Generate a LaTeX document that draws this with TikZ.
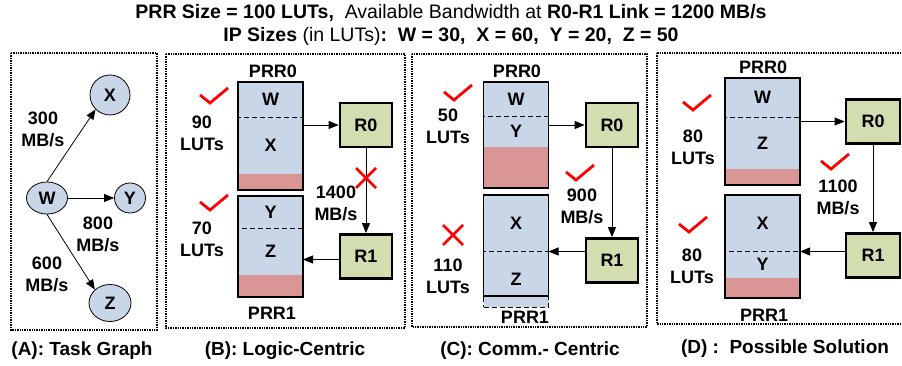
\documentclass[tikz,border=0pt]{standalone}
\usepackage{fontspec}
\setmainfont{Liberation Sans}
\usetikzlibrary{arrows.meta, positioning, shapes.geometric}
\definecolor{ipblue}{HTML}{C8D6E7}
\definecolor{routergreen}{HTML}{D2DEB0}
\definecolor{slackred}{HTML}{D99694}
\tikzset{
  panel/.style={draw, densely dotted, line width=1.4pt},
  lbl/.style={font=\bfseries\fontsize{18}{22}\selectfont, align=center, inner sep=0pt},
  caption/.style={font=\bfseries\fontsize{19}{22}\selectfont, inner sep=0pt},
  headline/.style={font=\fontsize{19.5}{22}\selectfont, inner sep=0pt},
  task/.style={ellipse, draw, line width=0.8pt, fill=ipblue, inner sep=0pt,
    font=\bfseries\fontsize{18}{22}\selectfont},
  router/.style={rectangle, draw, line width=2.8pt, fill=routergreen, minimum width=52pt,
    minimum height=44pt, inner sep=0pt, font=\bfseries\fontsize{18}{22}\selectfont},
  ipblock/.style={rectangle, draw, dash pattern=on 5pt off 3pt, line width=0.8pt, fill=ipblue,
    minimum width=65pt, inner sep=0pt, outer sep=0pt, font=\bfseries\fontsize{18}{22}\selectfont},
  slack/.style={rectangle, fill=slackred, minimum width=65pt, inner sep=0pt, outer sep=0pt},
  prr/.style={rectangle, draw, line width=1.6pt, minimum width=65pt, inner sep=0pt, outer sep=0pt},
  arrow/.style={-{Triangle[length=10pt, width=8pt]}, line width=0.8pt},
  pics/okmark/.style={code={\draw[red, line width=2.8pt] (-14,-1) -- (-4,7) -- (14,-8);}},
  pics/nomark/.style={code={\draw[red, line width=2.8pt] (-10,-10) -- (10,10) (-10,10) -- (10,-10);}},
}
\begin{document}
\begin{tikzpicture}[x=1pt, y=-1pt]
\clip (0,0) rectangle (902,366);
% heading
\node[headline] (title1) at (451,13) {\textbf{PRR Size = 100 LUTs,}\ \ Available Bandwidth at \textbf{R0-R1 Link = 1200 MB/s}};
\node[headline] (title2) at (451,36) {\textbf{IP Sizes} (in LUTs)\textbf{:\ \ W = 30,\ \ X = 60,\ \ Y = 20,\ \ Z = 50}};
% panels
\draw[panel] (11,53) rectangle (157,330);
\draw[panel] (166,54) rectangle (405,328);
\draw[panel] (412,54) rectangle (647,327);
\draw[panel] (657,53) rectangle (910,324);
\node[caption] (capA) at (82,351) {(A): Task Graph};
\node[caption] (capB) at (285,351) {(B): Logic-Centric};
\node[caption] (capC) at (530,351) {(C): Comm.- Centric};
\node[caption] (capD) at (785,349) {(D) :\ \ Possible Solution};

% (A) task graph
\node[task, minimum width=40pt, minimum height=40pt] (tX) at (110,95) {X};
\node[task, minimum width=41pt, minimum height=32pt] (tW) at (47,198) {W};
\node[task, minimum width=31pt, minimum height=30pt] (tY) at (130,198) {Y};
\node[task, minimum width=42pt, minimum height=37pt] (tZ) at (110,303) {Z};
\draw[arrow] (tW.north) -- (tX.south west);
\draw[arrow] (tW.east) -- (tY.west);
\draw[arrow] (tW.south) -- (tZ.north west);
\node[lbl] (bwX) at (43,129) {300\\MB/s};
\node[lbl] (bwY) at (98,234) {800\\MB/s};
\node[lbl] (bwZ) at (47,274) {600\\MB/s};

% (B) logic-centric
\node[ipblock, minimum height=35pt, anchor=north] (bW) at (270.5,82) {W};
\node[ipblock, minimum height=57pt, below=0pt of bW] (bX) {X};
\node[slack, minimum height=16pt, below=0pt of bX] (bS0) {};
\node[prr, minimum height=108pt, anchor=north] (bP0) at (270.5,82) {};
\node[ipblock, minimum height=32pt, anchor=north] (bY) at (270.5,196) {Y};
\node[ipblock, minimum height=47pt, below=0pt of bY] (bZ) {Z};
\node[slack, minimum height=22pt, below=0pt of bZ] (bS1) {};
\node[prr, minimum height=101pt, anchor=north] (bP1) at (270.5,196) {};
\node[lbl] (bL0) at (273,71) {PRR0};
\node[lbl] (bL1) at (272,313) {PRR1};
\node[router] (bR0) at (366,125) {R0};
\node[router] (bR1) at (366,256.5) {R1};
\draw[arrow] (bR0.west -| bP0.east) -- (bR0.west);
\draw[arrow] (bR0) -- (bR1);
\draw[arrow] ([yshift=-3pt]bR1.west) -- ([yshift=-3pt]bR1.west -| bP1.east);
\node[lbl] (bBw) at (336,203) {1400\\MB/s};
\node[lbl] (bU0) at (202,133) {90\\LUTs};
\node[lbl] (bU1) at (202,239) {70\\LUTs};
\pic at (214,96) {okmark};
\pic at (214,203) {okmark};
\pic at (366,178) {nomark};

% (C) comm.-centric
\node[ipblock, minimum height=34pt, anchor=north] (cW) at (516,82) {W};
\node[ipblock, minimum height=31pt, below=0pt of cW] (cY) {Y};
\node[slack, minimum height=41pt, below=0pt of cY] (cS0) {};
\node[prr, minimum height=106pt, anchor=north] (cP0) at (516,82) {};
\node[ipblock, minimum height=56pt, anchor=north] (cX) at (516,195) {X};
\node[ipblock, minimum height=56pt, below=0pt of cX] (cZ) {Z};
\node[prr, minimum height=101pt, anchor=north] (cP1) at (516,195) {};
\node[lbl] (cL0) at (517,71) {PRR0};
\node[lbl] (cL1) at (525,317) {PRR1};
\node[router] (cR0) at (612,125) {R0};
\node[router] (cR1) at (612,260.5) {R1};
\draw[arrow] (cR0.west -| cP0.east) -- (cR0.west);
\draw[arrow] (cR0) -- (cR1);
\draw[arrow] ([yshift=9pt]cR1.west) -- ([yshift=9pt]cR1.west -| cP1.east);
\node[lbl] (cBw) at (582,206) {900\\MB/s};
\node[lbl] (cU0) at (448,126.5) {50\\LUTs};
\node[lbl] (cU1) at (448,276.5) {110\\LUTs};
\pic at (458,93) {okmark};
\pic at (453,235) {nomark};
\pic at (580,173) {okmark};

% (D) possible solution
\node[ipblock, minimum width=75pt, minimum height=39pt, anchor=north] (dW) at (762.5,78) {W};
\node[ipblock, minimum width=75pt, minimum height=52pt, below=0pt of dW] (dZ) {Z};
\node[slack, minimum width=75pt, minimum height=16pt, below=0pt of dZ] (dS0) {};
\node[prr, minimum width=75pt, minimum height=107pt, anchor=north] (dP0) at (762.5,78) {};
\node[ipblock, minimum width=75pt, minimum height=56pt, anchor=north] (dX) at (762.5,195) {X};
\node[ipblock, minimum width=75pt, minimum height=27pt, below=0pt of dX] (dY) {Y};
\node[slack, minimum width=75pt, minimum height=20pt, below=0pt of dY] (dS1) {};
\node[prr, minimum width=75pt, minimum height=103pt, anchor=north] (dP1) at (762.5,195) {};
\node[lbl] (dL0) at (763,67) {PRR0};
\node[lbl] (dL1) at (764,315) {PRR1};
\node[router, minimum width=54pt] (dR0) at (873,121.5) {R0};
\node[router, minimum width=54pt] (dR1) at (873,255.5) {R1};
\draw[arrow] (dR0.west -| dP0.east) -- (dR0.west);
\draw[arrow] (dR0) -- (dR1);
\draw[arrow] ([yshift=4pt]dR1.west) -- ([yshift=4pt]dR1.west -| dP1.east);
\node[lbl] (dBw) at (838,197.5) {1100\\MB/s};
\node[lbl] (dU0) at (693,147.5) {80\\LUTs};
\node[lbl] (dU1) at (692,266.5) {80\\LUTs};
\pic at (697,103) {okmark};
\pic at (693,225) {okmark};
\pic at (835,162) {okmark};
\end{tikzpicture}
\end{document}
